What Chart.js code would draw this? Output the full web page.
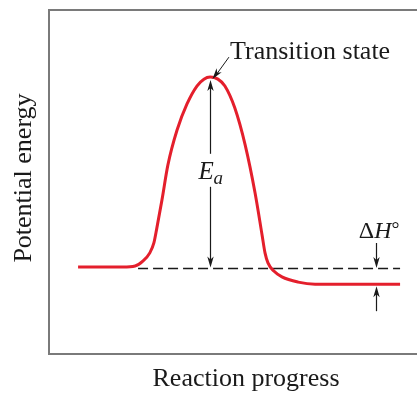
<!DOCTYPE html>
<html><head><meta charset="utf-8">
<script src="https://cdn.jsdelivr.net/npm/chart.js@4"></script>
<style>html,body{margin:0;padding:0;background:#fff}</style>
</head><body>
<canvas id="c" width="417" height="393"></canvas>
<script>
// Reaction coordinate (0-100) and potential energy (0-100, arbitrary units)
const progress = [7.9, 13.9, 20.1, 23.4, 25.5, 27.4, 28.5, 29.3, 30.7, 32.3, 34.8, 37.5, 40.2, 42.1, 43.8, 45.9, 47.8, 50.5, 53.3, 56.0, 57.9, 58.7, 59.5, 61.1, 63.3, 67.7, 72.3, 95.4];
const energy   = [25.3, 25.3, 25.3, 25.6, 27.0, 29.4, 32.3, 36.6, 44.8, 54.9, 65.1, 72.7, 77.9, 79.9, 80.5, 79.9, 77.9, 71.5, 60.8, 46.8, 34.6, 29.4, 26.5, 24.1, 22.4, 20.9, 20.3, 20.3];
const reactantLevel = 24.85;
const productLevel = 20.3;
const peakProgress = 43.8;
const peakEnergy = 80.5;
const dashedProgress = [24.2, 95.4];
const deltaHProgress = 88.9;
const axisTitles = ['Reaction progress', 'Potential energy'];
const annotationTexts = ['Transition state', 'E', 'a', 'Δ', 'H', '°'];

const curveData = progress.map((x, i) => ({x: x, y: energy[i]}));
const dashData = dashedProgress.map(x => ({x: x, y: reactantLevel}));

const SERIF = "'Liberation Serif', 'DejaVu Serif', serif";

function arrowHead(ctx, x1, y1, x2, y2) {
  const ang = Math.atan2(y2 - y1, x2 - x1);
  const len = 11, hw = 3.2, notch = 8;
  ctx.save();
  ctx.translate(x2, y2);
  ctx.rotate(ang);
  ctx.beginPath();
  ctx.moveTo(0, 0);
  ctx.lineTo(-len, -hw);
  ctx.lineTo(-notch, 0);
  ctx.lineTo(-len, hw);
  ctx.closePath();
  ctx.fill();
  ctx.restore();
}
function line(ctx, x1, y1, x2, y2) {
  ctx.beginPath(); ctx.moveTo(x1, y1); ctx.lineTo(x2, y2); ctx.stroke();
}

const decor = {
  id: 'decor',
  afterDatasetsDraw(chart) {
    const ctx = chart.ctx, a = chart.chartArea;
    const xs = chart.scales.x, ys = chart.scales.y;
    ctx.save();
    // frame
    ctx.strokeStyle = '#7a7a7a';
    ctx.lineWidth = 2;
    ctx.beginPath();
    ctx.moveTo(chart.width + 2, a.top);
    ctx.lineTo(a.left, a.top);
    ctx.lineTo(a.left, a.bottom);
    ctx.lineTo(chart.width + 2, a.bottom);
    ctx.stroke();

    ctx.strokeStyle = '#1a1a1a';
    ctx.fillStyle = '#1a1a1a';
    ctx.lineWidth = 1.2;

    // Ea arrow
    const px = Math.round(xs.getPixelForValue(peakProgress)) + 0.5;
    const pTop = ys.getPixelForValue(peakEnergy) + 3;
    const pBot = ys.getPixelForValue(reactantLevel) - 1;
    const mid = (pTop + pBot) / 2 - 1;
    line(ctx, px, pTop + 4, px, mid - 19);
    line(ctx, px, mid + 14, px, pBot - 4);
    arrowHead(ctx, px, pTop + 20, px, pTop);
    arrowHead(ctx, px, pBot - 20, px, pBot);
    ctx.font = 'italic 25px ' + SERIF;
    ctx.textBaseline = 'alphabetic';
    ctx.textAlign = 'left';
    ctx.fillText(annotationTexts[1], px - 12, mid + 6);
    ctx.font = 'italic 19px ' + SERIF;
    ctx.fillText(annotationTexts[2], px + 3, mid + 11);

    // Transition state label + leader
    ctx.lineWidth = 1;
    const lx1 = xs.getPixelForValue(48.9), ly1 = ys.getPixelForValue(86.3);
    const lx2 = px + 2, ly2 = ys.getPixelForValue(peakEnergy) + 2;
    line(ctx, lx1, ly1, lx2 + 2, ly2 - 2);
    arrowHead(ctx, lx1, ly1, lx2, ly2);
    ctx.font = '26px ' + SERIF;
    ctx.fillText(annotationTexts[0], xs.getPixelForValue(49.2), ys.getPixelForValue(85.8));

    // Delta H arrows
    ctx.lineWidth = 1.2;
    const hx = Math.round(xs.getPixelForValue(deltaHProgress)) + 0.5;
    const yD = ys.getPixelForValue(reactantLevel) - 0.5;
    const yP = ys.getPixelForValue(productLevel) + 2;
    line(ctx, hx, yD - 25, hx, yD - 6);
    arrowHead(ctx, hx, yD - 25, hx, yD);
    line(ctx, hx, yP + 25, hx, yP + 6);
    arrowHead(ctx, hx, yP + 25, hx, yP);
    const bx = xs.getPixelForValue(84.2), by = ys.getPixelForValue(33.7);
    ctx.font = '24px ' + SERIF;
    ctx.fillText(annotationTexts[3], bx, by);
    let w = ctx.measureText(annotationTexts[3]).width;
    ctx.font = 'italic 24px ' + SERIF;
    ctx.fillText(annotationTexts[4], bx + w, by);
    w += ctx.measureText(annotationTexts[4]).width;
    ctx.font = '20px ' + SERIF;
    ctx.fillText(annotationTexts[5], bx + w, by - 2);

    // axis titles
    ctx.fillStyle = '#1a1a1a';
    ctx.font = '26px ' + SERIF;
    ctx.textAlign = 'center';
    ctx.fillText(axisTitles[0], (a.left + a.right) / 2 + 13, a.bottom + 32);
    ctx.save();
    ctx.translate(a.left - 18, (a.top + a.bottom) / 2 - 4);
    ctx.rotate(-Math.PI / 2);
    ctx.fillText(axisTitles[1], 0, 0);
    ctx.restore();
    ctx.restore();
  }
};

new Chart(document.getElementById('c'), {
  type: 'line',
  data: {
    datasets: [
      {data: curveData, borderColor: '#e41f2c', borderWidth: 3, pointRadius: 0,
       cubicInterpolationMode: 'monotone', fill: false},
      {data: dashData, borderColor: '#1a1a1a', borderWidth: 1.3, borderDash: [10, 5],
       pointRadius: 0, fill: false}
    ]
  },
  options: {
    responsive: false,
    devicePixelRatio: 1,
    animation: false,
    layout: {padding: {left: 49, top: 10, right: 0, bottom: 39}},
    plugins: {legend: {display: false}, tooltip: {enabled: false}},
    scales: {
      x: {type: 'linear', min: 0, max: 100, display: false},
      y: {type: 'linear', min: 0, max: 100, display: false}
    }
  },
  plugins: [decor]
});
</script>
</body></html>
